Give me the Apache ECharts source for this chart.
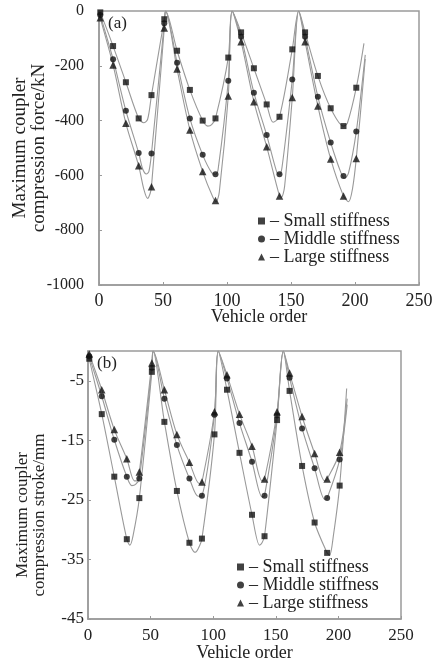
<!DOCTYPE html>
<html><head><meta charset="utf-8">
<script src="https://cdn.jsdelivr.net/npm/echarts@6/dist/echarts.min.js"></script>
<style>html,body{margin:0;padding:0;background:#fff}#c{width:433px;height:662px}</style>
</head><body><div id="c"></div>
<script>
// ---------- data ----------
const markerOrders = [1,11,21,31,41,51,61,71,81,91,101,111,121,131,141,151,161,171,181,191,201];
const seriesNames = ['Small stiffness','Middle stiffness','Large stiffness'];
const xTicks = [0,50,100,150,200,250];
const forceTicks = [-1000,-800,-600,-400,-200,0];
const strokeTicks = [-45,-35,-25,-15,-5];

// (a) maximum coupler compression force, kN (markers)
const smallForce  = [-5,-128,-260,-392,-307,-30,-145,-288,-400,-392,-170,-78,-209,-341,-386,-140,-78,-237,-355,-420,-280];
const middleForce = [-15,-176,-364,-518,-520,-45,-189,-392,-525,-596,-255,-94,-298,-453,-596,-250,-94,-313,-480,-602,-440];
const largeForce  = [-25,-197,-410,-565,-641,-62,-212,-434,-586,-692,-310,-112,-331,-495,-675,-316,-112,-347,-540,-675,-538];

// (a) simulated curves [vehicle order, force]
const smallForceCurve = [[0,0],[1,-5],[11,-128],[21,-260],[31,-392],[35,-408],[38,-395],[41,-307],[51,-30],[52,0],[61,-145],[71,-288],[81,-400],[85,-420],[88,-415],[91,-392],[101,-170],[104,0],[111,-78],[121,-209],[131,-341],[136,-406],[141,-386],[151,-140],[156,0],[161,-78],[171,-237],[181,-355],[191,-420],[194,-410],[201,-280],[207,-118]];
const middleForceCurve = [[0,0],[1,-15],[11,-176],[21,-364],[31,-518],[34,-575],[37,-595],[39,-585],[41,-520],[51,-45],[52,0],[61,-189],[71,-392],[81,-525],[88,-590],[91,-596],[93,-580],[101,-255],[104,0],[111,-94],[121,-298],[131,-453],[139,-590],[141,-596],[143,-570],[151,-250],[156,0],[161,-94],[171,-313],[181,-480],[189,-590],[192,-611],[195,-590],[201,-440],[208,-160]];
const largeForceCurve = [[0,0],[1,-25],[11,-197],[21,-410],[31,-565],[35,-650],[38,-684],[40,-665],[41,-641],[51,-62],[52,0],[61,-212],[71,-434],[81,-586],[89,-680],[91.5,-696],[94,-660],[101,-310],[104,0],[111,-112],[121,-331],[131,-495],[141,-675],[142.5,-680],[145,-640],[151,-316],[156,0],[161,-112],[171,-347],[181,-540],[191,-675],[195,-696],[198,-650],[201,-538],[208,-175]];

// (b) maximum coupler compression stroke, mm (markers)
const smallStroke  = [-1.3,-10.6,-21.1,-31.6,-24.7,-3.5,-11.9,-23.5,-32.2,-31.5,-14,-6.5,-17.1,-27.5,-31.1,-11.6,-6.7,-19.3,-28.8,-33.9,-22.6];
const middleStroke = [-0.9,-7.6,-14.9,-21.1,-21.4,-2.8,-8,-15.8,-21.4,-24.3,-10.7,-4.6,-12.1,-18.6,-24.3,-10.8,-4.5,-13,-19.7,-24.7,-18.2];
const largeStroke  = [-0.5,-6.5,-13.2,-18.1,-20.3,-2,-6.5,-14,-18.7,-22,-10.2,-4,-10.6,-16,-21.5,-10.2,-3.7,-11,-17.2,-21.5,-17];

// (b) simulated curves [vehicle order, stroke]
const smallStrokeCurve = [[0,0],[1,-1.3],[11,-10.6],[21,-21.1],[31,-31.6],[33.5,-32.6],[36,-31],[41,-24.7],[51,-3.5],[52,0],[61,-11.9],[71,-23.5],[81,-32.2],[85.5,-33.8],[88,-33.2],[91,-31.5],[101,-14],[104,0],[111,-6.5],[121,-17.1],[131,-27.5],[137,-32.6],[139,-32.2],[141,-31.1],[151,-11.6],[156,0],[161,-6.7],[171,-19.3],[181,-28.8],[191,-33.9],[193,-34.3],[196,-31],[201,-22.6],[206.6,-6.3]];
const middleStrokeCurve = [[0,0],[1,-0.9],[11,-7.6],[21,-14.9],[31,-21.1],[35,-22.6],[38,-22.4],[41,-21.4],[51,-2.8],[52,0],[61,-8],[71,-15.8],[81,-21.4],[88,-24.4],[91,-24.3],[101,-10.7],[104,0],[111,-4.6],[121,-12.1],[131,-18.6],[139,-24.5],[141,-24.3],[151,-10.8],[156,0],[161,-4.5],[171,-13],[181,-19.7],[189,-24.9],[191,-24.7],[201,-18.2],[207,-9]];
const largeStrokeCurve = [[0,0],[1,-0.5],[11,-6.5],[21,-13.2],[31,-18.1],[37,-21.8],[39,-21.8],[41,-20.3],[51,-2],[52,0],[61,-6.5],[71,-14],[81,-18.7],[89,-22.3],[91,-22],[101,-10.2],[104,0],[111,-4],[121,-10.6],[131,-16],[139,-21.8],[141,-21.5],[151,-10.2],[156,0],[161,-3.7],[171,-11],[181,-17.2],[189,-21.8],[191,-21.5],[201,-17],[207,-8]];

// ---------- chart ----------
const FONT = '"Liberation Serif", "Times New Roman", serif';
const TXT = '#222';
const AX = '#9a9a9a';
const symbols = ['rect','circle','triangle'];

function pairs(xs, ys){ return xs.map((x,i)=>[x, ys[i]]); }

function xAxisCfg(grid, fs, margin, gap){
  return {
    type:'value', gridIndex:grid, min:xTicks[0], max:xTicks[xTicks.length-1], interval:50,
    axisLine:{show:true, onZero:false, lineStyle:{color:AX, width:1.5}},
    axisTick:{show:true, inside:true, length:3, lineStyle:{color:AX}},
    axisLabel:{fontFamily:FONT, fontSize:fs, color:TXT, margin:margin, formatter: v => String(v)},
    splitLine:{show:false},
    name:'Vehicle order', nameLocation:'middle', nameGap:gap, nameMoveOverlap:false,
    nameTextStyle:{fontFamily:FONT, fontSize:18, color:TXT}
  };
}

const lineStyle = {color:'#999', width:1.1};
const series = [];
const forceCurves = [smallForceCurve, middleForceCurve, largeForceCurve];
const forceMarks = [smallForce, middleForce, largeForce];
const strokeCurves = [smallStrokeCurve, middleStrokeCurve, largeStrokeCurve];
const strokeMarks = [smallStroke, middleStroke, largeStroke];
[0,1].forEach(g=>{
  const curves = g===0 ? forceCurves : strokeCurves;
  const marks = g===0 ? forceMarks : strokeMarks;
  seriesNames.forEach((nm,i)=>{
    series.push({type:'line', name:nm+' curve', xAxisIndex:g, yAxisIndex:g, data:curves[i],
      showSymbol:false, smooth:0.3, lineStyle:lineStyle, z:1, silent:true});
  });
  seriesNames.forEach((nm,i)=>{
    series.push({type:'scatter', name:nm, xAxisIndex:g, yAxisIndex:g, data:pairs(markerOrders, marks[i]),
      symbol:symbols[i], symbolSize: i===2 ? 7.5 : 6, itemStyle:{color:'#111'}, z:3});
  });
});

function legendCfg(left, top){
  return {
    orient:'vertical', left:left, top:top, padding:0, itemGap:0, itemWidth:7, itemHeight:7,
    data: seriesNames.map((n,i)=>({name:n, icon:symbols[i], itemStyle:{color:'#111'}})),
    formatter: n => '\u2013 ' + n,
    textStyle:{fontFamily:FONT, fontSize:18, color:TXT, lineHeight:18},
    selectedMode:false
  };
}

const chart = echarts.init(document.getElementById('c'), null, {renderer:'canvas'});
chart.setOption({
  animation:false,
  backgroundColor:'#fff',
  title:[
    {text:'(a)', left:108, top:15, padding:0, textStyle:{fontFamily:FONT, fontSize:17, fontWeight:'normal', color:TXT}},
    {text:'(b)', left:97, top:355, padding:0, textStyle:{fontFamily:FONT, fontSize:17, fontWeight:'normal', color:TXT}}
  ],
  grid:[
    {left:99, right:14, top:11, bottom:377, show:true, borderColor:AX, borderWidth:1.5, containLabel:false, outerBoundsMode:'none'},
    {left:88, right:32, top:351, bottom:43, show:true, borderColor:AX, borderWidth:1.5, containLabel:false, outerBoundsMode:'none'}
  ],
  legend:[legendCfg(258, 212), legendCfg(237, 558)],
  xAxis:[ xAxisCfg(0, 18, 7, 23), xAxisCfg(1, 17, 8, 25) ],
  yAxis:[
    {type:'value', gridIndex:0, min:forceTicks[0], max:forceTicks[forceTicks.length-1], interval:200,
     axisLine:{show:true, onZero:false, lineStyle:{color:AX, width:1.5}},
     axisTick:{show:true, inside:true, length:3, lineStyle:{color:AX}},
     axisLabel:{fontFamily:FONT, fontSize:16, color:TXT, margin:15, formatter: v => String(v)},
     splitLine:{show:false},
     name:'Maximum coupler\ncompression force/kN', nameLocation:'middle', nameGap:50, nameMoveOverlap:false,
     nameTextStyle:{fontFamily:FONT, fontSize:19, lineHeight:19, color:TXT}},
    {type:'value', gridIndex:1, min:strokeTicks[0], max:0, interval:10,
     axisLine:{show:true, onZero:false, lineStyle:{color:AX, width:1.5}},
     axisTick:{show:true, inside:true, length:3, lineStyle:{color:AX}},
     axisLabel:{fontFamily:FONT, fontSize:17, color:TXT, margin:4, showMaxLabel:false,
       formatter: v => strokeTicks.indexOf(v) >= 0 ? String(v) : ''},
     splitLine:{show:false},
     name:'Maximum coupler\ncompression stroke/mm', nameLocation:'middle', nameGap:40, nameMoveOverlap:false,
     nameTextStyle:{fontFamily:FONT, fontSize:17, lineHeight:17, color:TXT, padding:[0,60,0,0]}}
  ],
  series:series
});
</script>
</body></html>
